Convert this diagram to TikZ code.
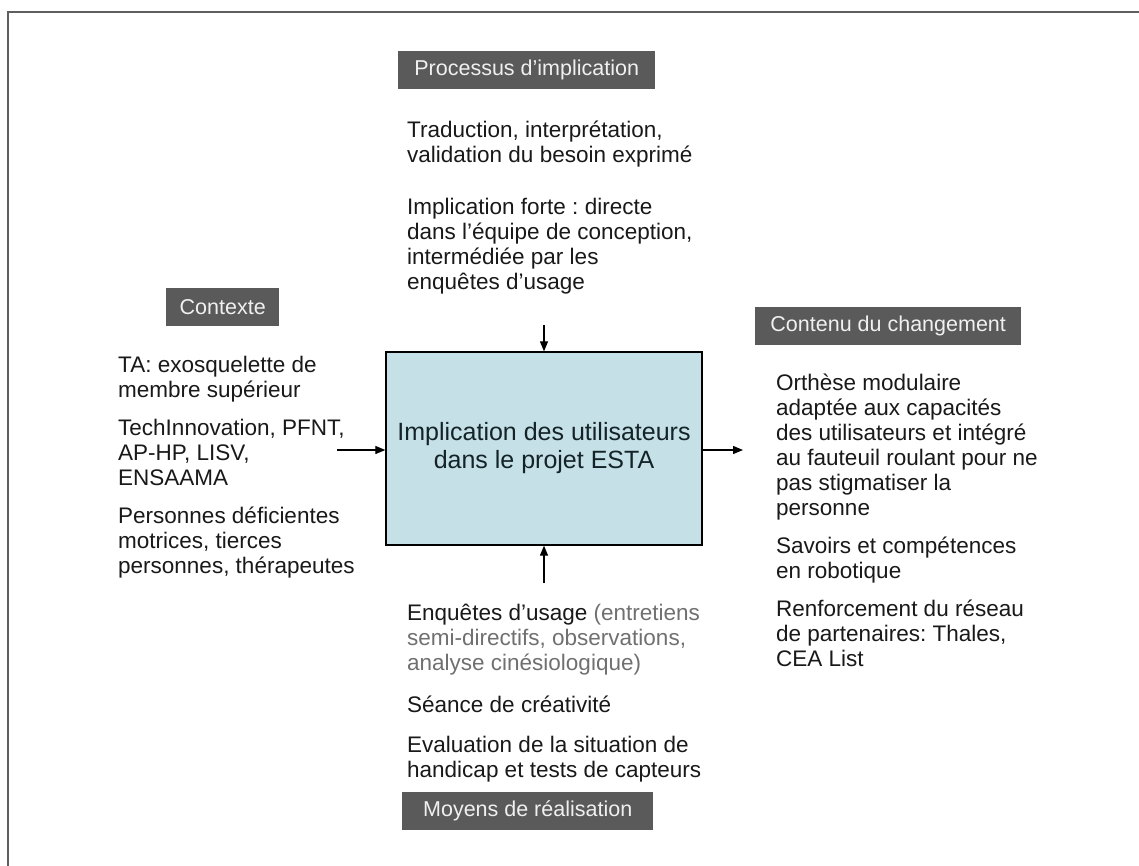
\documentclass[tikz,border=0pt]{standalone}
\usepackage{fontspec}
\setmainfont{Liberation Sans}
\usetikzlibrary{arrows.meta}
\definecolor{labelbg}{RGB}{90,90,90}
\definecolor{labeltx}{RGB}{240,240,240}
\definecolor{boxfill}{RGB}{197,224,230}
\definecolor{frameg}{RGB}{95,95,95}
\definecolor{txt}{RGB}{25,25,25}
\definecolor{paren}{RGB}{112,112,112}
\newcommand{\topstrut}{\rule{0pt}{17pt}}
\frenchspacing
\begin{document}
\begin{tikzpicture}[x=1pt,y=-1pt,
  lab/.style={fill=labelbg, text=labeltx, inner sep=0pt, minimum height=38pt,
    font=\fontsize{21.5}{24}\selectfont, anchor=north west},
  para/.style={anchor=north west, inner sep=0pt, align=left, text=txt,
    font=\fontsize{22.5}{25}\selectfont},
  arr/.style={-{Triangle[length=10pt,width=8pt]}, line width=1.2pt, draw=black},
  mainbox/.style={draw=black, line width=1.3pt, fill=boxfill, minimum width=316pt,
    minimum height=193pt, inner sep=0pt, align=center, text={rgb,255:red,20;green,35;blue,40},
    font=\fontsize{25}{28}\selectfont}
]
\useasboundingbox (0,0) rectangle (1139,866);
\fill[white] (0,0) rectangle (1139,866);
% outer frame
\draw[frameg, line width=2pt, line cap=rect] (8,880) -- (8,12) -- (1150,12);

% label boxes
\node[lab, minimum width=257pt] (proc) at (398,51) {Processus d’implication};
\node[lab, minimum width=113pt] (ctx) at (166,288) {Contexte};
\node[lab, minimum width=266pt] (cont) at (755,307) {Contenu du changement};
\node[lab, minimum width=251pt] (moy) at (402,792) {Moyens de réalisation};

% main box
\node[mainbox] (main) at (544,448.5) {Implication des utilisateurs\\dans le projet ESTA};

% top column
\node[para] (t1) at (407,120) {\topstrut Traduction, interprétation,\\validation du besoin exprimé};
\node[para] (t2) at (407,197) {\topstrut Implication forte : directe\\dans l’équipe de conception,\\intermédiée par les\\enquêtes d’usage};

% left column
\node[para] (l1) at (118,355) {\topstrut TA: exosquelette de\\membre supérieur};
\node[para] (l2) at (118,418) {\topstrut TechInnovation, PFNT,\\AP-HP, LISV,\\ENSAAMA};
\node[para] (l3) at (118,506) {\topstrut Personnes déficientes\\motrices, tierces\\personnes, thérapeutes};

% right column
\node[para] (r1) at (776,373) {\topstrut Orthèse modulaire\\adaptée aux capacités\\des utilisateurs et intégré\\au fauteuil roulant pour ne\\pas stigmatiser la\\personne};
\node[para] (r2) at (776,536) {\topstrut Savoirs et compétences\\en robotique};
\node[para] (r3) at (776,599) {\topstrut Renforcement du réseau\\de partenaires: Thales,\\CEA List};

% bottom column
\node[para] (b1) at (407,603) {\topstrut Enquêtes d’usage \textcolor{paren}{(entretiens}\\\textcolor{paren}{semi-directifs, observations,}\\\textcolor{paren}{analyse cinésiologique)}};
\node[para] (b2) at (407,695) {\topstrut Séance de créativité};
\node[para] (b3) at (407,735) {\topstrut Evaluation de la situation de\\handicap et tests de capteurs};

% connectors
\coordinate (tA) at (544,325);
\coordinate (bA) at (544,583);
\coordinate (lA) at (337,450);
\coordinate (rA) at (743,450);
\draw[arr] (tA) -- (main.north);
\draw[arr] (bA) -- (main.south);
\draw[arr] (lA) -- (lA -| main.west);
\draw[arr] (rA -| main.east) -- (rA);
\end{tikzpicture}
\end{document}
